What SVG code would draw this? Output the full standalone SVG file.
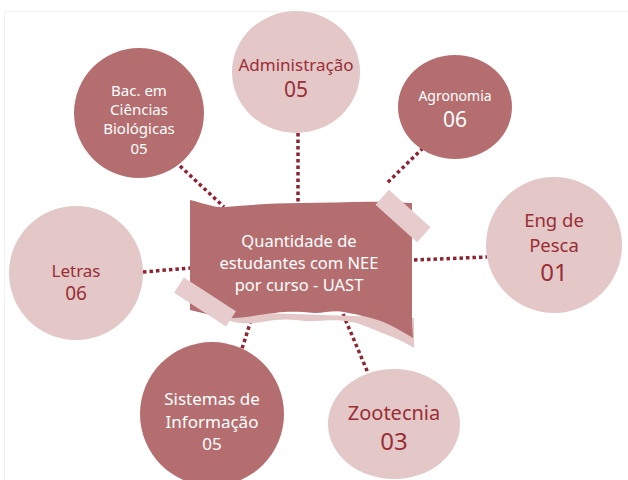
<svg xmlns="http://www.w3.org/2000/svg" width="628" height="480" viewBox="0 0 628 480">
<defs>
<style>
.dark{fill:#b56e6f}
.light{fill:#e4c7c7}
.tape{fill:#e6cccc}
.tw{fill:#ffffff;font-family:"Noto Sans",sans-serif;text-anchor:middle}
.td{fill:#9a2e36;font-family:"Noto Sans",sans-serif;text-anchor:middle}
.conn{stroke:#8e2431;stroke-width:3.5;stroke-dasharray:3.5 3;fill:none}
</style>
</defs>
<rect x="0" y="0" width="628" height="480" fill="#ffffff"/>
<rect x="4.5" y="11.5" width="640" height="480" fill="none" stroke="#f2f2f2" stroke-width="1"/>
<g id="connectors">
<line class="conn" x1="298" y1="133" x2="298" y2="202"/>
<line class="conn" x1="180" y1="166" x2="224" y2="207"/>
<line class="conn" x1="423" y1="148" x2="386" y2="184"/>
<line class="conn" x1="414" y1="260" x2="487" y2="257"/>
<line class="conn" x1="143" y1="272" x2="190" y2="268"/>
<line class="conn" x1="253" y1="314" x2="240" y2="355"/>
<line class="conn" x1="343" y1="314" x2="368" y2="373"/>
</g>
<g id="center">
<path class="light" d="M222,318 C245,328 262,321 276,320 C292,318 302,322 316,321 C332,320 342,320 352,322 C366,325 378,332 390,336 C400,340 408,344 414,348 L414,318 L230,312 Z"/>
<path class="dark" d="M190,200 C203,203 214,208 226,207 C250,205 275,203 300,203 C330,203 360,201 385,202 L412,203 L412,322 L413,338 C405,333 398,329 390,325 C380,320 372,318 362,316 C354,313 350,314 344,312 C334,310 325,313 315,313 C300,312 290,311 275,313 C260,314 246,318 233,318 C220,319 205,313 190,310 Z"/>
<rect class="tape" x="-28" y="-10" width="56" height="20" transform="translate(403,216) rotate(42)"/>
<rect class="tape" x="-31" y="-9" width="62" height="18" transform="translate(205,302) rotate(33)"/>
<text class="tw" font-size="16.5" x="299" y="247">Quantidade de</text>
<text class="tw" font-size="16.5" x="299" y="269">estudantes com NEE</text>
<text class="tw" font-size="16.5" x="299" y="291">por curso - UAST</text>
</g>
<g id="administracao">
<ellipse class="light" cx="296" cy="72" rx="64" ry="61"/>
<text class="td" font-size="17" x="296" y="71">Administração</text>
<text class="td" font-size="21" x="296" y="97">05</text>
</g>
<g id="bac-biologicas">
<circle class="dark" cx="139" cy="113" r="65"/>
<text class="tw" font-size="15" x="139" y="96">Bac. em</text>
<text class="tw" font-size="15" x="139" y="115">Ciências</text>
<text class="tw" font-size="15" x="139" y="134">Biológicas</text>
<text class="tw" font-size="15" x="139" y="154">05</text>
</g>
<g id="agronomia">
<ellipse class="dark" cx="455" cy="107" rx="57" ry="52"/>
<text class="tw" font-size="14" x="455" y="101">Agronomia</text>
<text class="tw" font-size="21" x="455" y="127">06</text>
</g>
<g id="eng-pesca">
<circle class="light" cx="554" cy="245" r="68"/>
<text class="td" font-size="18.5" x="554" y="227">Eng de</text>
<text class="td" font-size="18.5" x="554" y="252">Pesca</text>
<text class="td" font-size="24" x="554" y="281">01</text>
</g>
<g id="letras">
<circle class="light" cx="76" cy="273" r="67"/>
<text class="td" font-size="17" x="76" y="277">Letras</text>
<text class="td" font-size="19" x="76" y="300">06</text>
</g>
<g id="sistemas">
<circle class="dark" cx="212" cy="414" r="72"/>
<text class="tw" font-size="17" x="212" y="405">Sistemas de</text>
<text class="tw" font-size="17" x="212" y="428">Informação</text>
<text class="tw" font-size="17" x="212" y="450">05</text>
</g>
<g id="zootecnia">
<ellipse class="light" cx="394" cy="424" rx="66" ry="55"/>
<text class="td" font-size="20" x="394" y="420">Zootecnia</text>
<text class="td" font-size="24" x="394" y="450">03</text>
</g>
</svg>
